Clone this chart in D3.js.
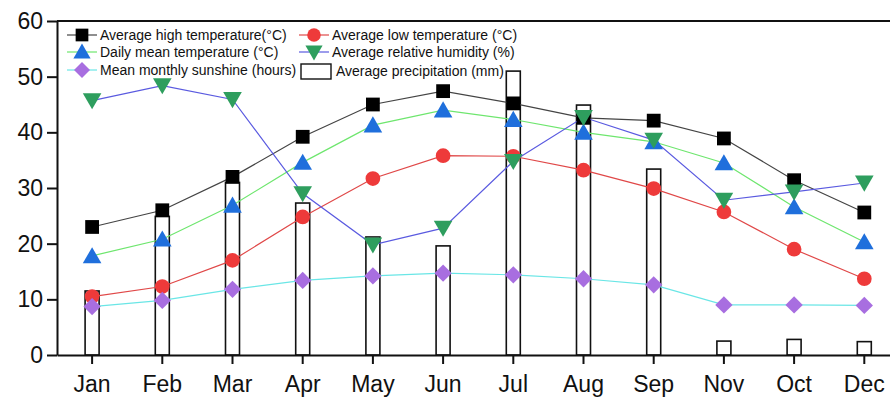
<!DOCTYPE html>
<html>
<head>
<meta charset="utf-8">
<script src="https://cdn.jsdelivr.net/npm/d3@7"></script>
<style>
  body { margin: 0; background: #fff; }
  svg { display: block; font-family: "Liberation Sans", Arial, sans-serif; }
</style>
</head>
<body>
<div id="chart"></div>
<script>
// month labels as printed on the original (Nov before Oct)
const months = ["Jan", "Feb", "Mar", "Apr", "May", "Jun", "Jul", "Aug", "Sep", "Nov", "Oct", "Dec"];
const avgHigh = [23, 26, 32, 39.2, 45, 47.4, 45.2, 42.6, 42.1, 38.9, 31.4, 25.6];
const avgLow = [10.5, 12.3, 17, 24.8, 31.7, 35.8, 35.7, 33.2, 29.9, 25.7, 19, 13.7];
const dailyMean = [17.8, 20.8, 26.9, 34.6, 41.3, 44, 42.3, 40, 38.3, 34.5, 26.6, 20.3];
const humidity = [45.7, 48.4, 45.9, 29, 19.8, 22.8, 34.8, 42.7, 38.6, 27.8, 29.3, 30.9];
const sunshine = [8.7, 9.8, 11.8, 13.4, 14.2, 14.7, 14.4, 13.7, 12.6, 9, 9, 8.9];
const precipitation = [11.5, 24.9, 31, 27.3, 21.2, 19.6, 51, 44.9, 33.4, 2.5, 2.8, 2.4];
const yTicks = [0, 10, 20, 30, 40, 50, 60];

const width = 890, height = 398;
const margin = { top: 21, left: 57, bottom: 43 };

const svg = d3.select('#chart')
    .append('svg')
    .attr('width', width)
    .attr('height', height)
;

const x = d3.scaleBand()
    .domain(months)
    .range([margin.left, margin.left + 12 * 70.2])
;

const y = d3.scaleLinear()
    .domain([0, 60])
    .range([height - margin.bottom, margin.top])
;

const cx = m => x(m) + x.bandwidth() / 2;

// precipitation bars
const barW = 14;
svg.append('g')
    .selectAll('rect')
    .data(precipitation)
    .join('rect')
    .attr('x', (d, i) => cx(months[i]) - barW / 2)
    .attr('y', d => y(d))
    .attr('width', barW)
    .attr('height', d => y(0) - y(d))
    .attr('fill', '#fff')
    .attr('stroke', '#111')
    .attr('stroke-width', 1.6)
;

// rot 45 on a square gives the diamond used in the original
const series = [
    { name: 'Average high temperature(°C)', values: avgHigh, line: '#444', fill: '#000', shape: d3.symbolSquare, size: 190, rot: 0 },
    { name: 'Average low temperature (°C)', values: avgLow, line: '#e04848', fill: '#ee3a3a', shape: d3.symbolCircle, size: 170, rot: 0 },
    { name: 'Daily mean temperature (°C)', values: dailyMean, line: '#6ee66e', fill: '#1f6fdc', shape: d3.symbolTriangle, size: 150, rot: 0 },
    { name: 'Average relative humidity (%)', values: humidity, line: '#5a5ae0', fill: '#2e9e5e', shape: d3.symbolTriangle, size: 150, rot: 180 },
    { name: 'Mean monthly sunshine (hours)', values: sunshine, line: '#6ae6e6', fill: '#a86ee0', shape: d3.symbolSquare, size: 150, rot: 45 },
];

const line = d3.line()
    .x((d, i) => cx(months[i]))
    .y(d => y(d))
;

// draw lines first so markers sit on top
series.forEach(s => {
    svg.append('path')
        .attr('d', line(s.values))
        .attr('fill', 'none')
        .attr('stroke', s.line)
        .attr('stroke-width', 1.2)
    ;
});

series.forEach(s => {
    svg.append('g')
        .selectAll('path')
        .data(s.values)
        .join('path')
        .attr('d', d3.symbol().type(s.shape).size(s.size))
        .attr('transform', (d, i) => {
            let dy = s.shape === d3.symbolTriangle ? (s.rot ? -2 : 2) : 0;
            return `translate(${cx(months[i])},${y(d) + dy}) rotate(${s.rot})`;
        })
        .attr('fill', s.fill)
    ;
});

// axes
const yAxis = svg.append('g')
    .attr('transform', `translate(${margin.left},0)`)
    .call(d3.axisLeft(y).tickValues(yTicks).tickSize(10).tickPadding(4).tickSizeOuter(0))
;
const xAxis = svg.append('g')
    .attr('transform', `translate(0,${y(0)})`)
    .call(d3.axisBottom(x).tickSize(9).tickPadding(6).tickSizeOuter(0))
;
[yAxis, xAxis].forEach(a => {
    a.select('.domain').attr('stroke', '#111').attr('stroke-width', 2);
    a.selectAll('.tick line').attr('stroke', '#111').attr('stroke-width', 2);
    a.selectAll('.tick text')
        .attr('fill', '#111')
        .style('font-size', '23px')
        .style('font-family', '"Liberation Sans", Arial, sans-serif')
    ;
});
xAxis.selectAll('.tick text').attr('dy', '0.95em');

// top frame line
svg.append('line')
    .attr('x1', margin.left).attr('x2', width)
    .attr('y1', y(60)).attr('y2', y(60))
    .attr('stroke', '#111')
    .attr('stroke-width', 2)
;

// legend
const legend = svg.append('g').style('font-size', '14px');
const legendPos = [[82, 35], [314, 35], [82, 52], [314, 52], [82, 70]];
series.forEach((s, i) => {
    const [lx, ly] = legendPos[i];
    const g = legend.append('g').attr('transform', `translate(${lx},${ly})`);
    g.append('line')
        .attr('x1', -15).attr('x2', 15)
        .attr('stroke', s.line)
        .attr('stroke-width', 1.2)
    ;
    g.append('path')
        .attr('d', d3.symbol().type(s.shape).size(s.size * 0.85))
        .attr('transform', `translate(0,${s.shape === d3.symbolTriangle ? (s.rot ? -1.5 : 1.5) : 0}) rotate(${s.rot})`)
        .attr('fill', s.fill)
    ;
    g.append('text')
        .attr('x', 18)
        .attr('dy', '0.35em')
        .attr('fill', '#111')
        .text(s.name)
    ;
});
const pg = legend.append('g').attr('transform', 'translate(314,71)');
pg.append('rect')
    .attr('x', -13).attr('y', -7)
    .attr('width', 30).attr('height', 15)
    .attr('fill', '#fff')
    .attr('stroke', '#111')
    .attr('stroke-width', 1.4)
;
pg.append('text')
    .attr('x', 22)
    .attr('dy', '0.35em')
    .attr('fill', '#111')
    .text('Average precipitation (mm)')
;
</script>
</body>
</html>
